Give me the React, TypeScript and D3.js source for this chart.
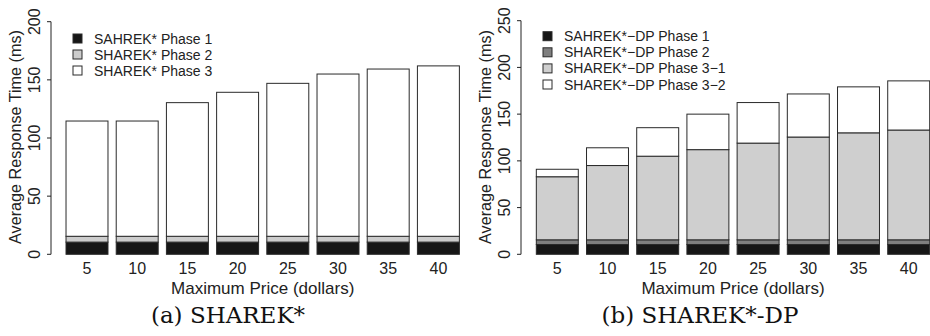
import React from "react";
import * as d3 from "d3";

// Maximum price categories (dollars)
const prices = ["5", "10", "15", "20", "25", "30", "35", "40"];

// SHAREK* phase times (ms)
const sharekPhase1 = [10.5, 10.5, 10.5, 10.5, 10.5, 10.5, 10.5, 10.5];
const sharekPhase2 = [5, 5, 5, 5, 5, 5, 5, 5];
const sharekPhase3 = [99.1, 99.1, 114.9, 123.8, 131.5, 139.5, 143.8, 146.5];

// SHAREK*-DP phase times (ms)
const dpPhase1 = [10.5, 10.5, 10.5, 10.5, 10.5, 10.5, 10.5, 10.5];
const dpPhase2 = [5, 5, 5, 5, 5, 5, 5, 5];
const dpPhase31 = [67.5, 79.5, 89.5, 96.5, 103.5, 110, 114.5, 117.5];
const dpPhase32 = [8, 19, 30.5, 38, 43.4, 46.1, 49.2, 52.6];

const leftTicks = [0, 50, 100, 150, 200];
const rightTicks = [0, 50, 100, 150, 200, 250];

const leftLegend = ["SAHREK* Phase 1", "SHAREK* Phase 2", "SHAREK* Phase 3"];
const rightLegend = [
  "SAHREK*\u2212DP Phase 1",
  "SHAREK*\u2212DP Phase 2",
  "SHAREK*\u2212DP Phase 3\u22121",
  "SHAREK*\u2212DP Phase 3\u22122",
];

const SANS = "'Liberation Sans', Arial, sans-serif";
const SERIF = "'DejaVu Serif', serif";

type PanelProps = {
  series: number[][];
  colors: string[];
  legend: string[];
  ticks: number[];
  yMax: number;
  axisX: number;
  barStart: number;
  yTop: number;
  caption: string;
  captionX: number;
  legendY: number;
  legendStep: number;
};

function Panel(p: PanelProps) {
  const y0 = 254.3;
  const y = d3.scaleLinear().domain([0, p.yMax]).range([y0, p.yTop]);
  const step = 50.2;
  const x = d3
    .scaleBand<string>()
    .domain(prices)
    .range([p.barStart - 4.1, p.barStart - 4.1 + step * prices.length])
    .paddingInner(0.164)
    .paddingOuter(0.082);

  const rows = prices.map((c, i) => {
    const r: Record<string, number | string> = { c };
    p.series.forEach((s, k) => (r["s" + k] = s[i]));
    return r;
  });
  const keys = p.series.map((_, k) => "s" + k);
  const stacked = d3.stack<Record<string, number | string>>().keys(keys)(rows as any);

  const xTitle = (x.range()[0] + x.range()[1]) / 2;
  const text = { fontFamily: SANS, fill: "#222" };

  return (
    <g>
      {/* y axis */}
      <line x1={p.axisX} x2={p.axisX} y1={y(0)} y2={y(p.yMax)} stroke="#222" strokeWidth={1} />
      {p.ticks.map((t) => (
        <g key={t}>
          <line x1={p.axisX - 4} x2={p.axisX} y1={y(t)} y2={y(t)} stroke="#222" strokeWidth={1} />
          <text
            transform={`translate(${p.axisX - 17},${y(t)}) rotate(-90)`}
            textAnchor="middle"
            dominantBaseline="central"
            style={{ ...text, fontSize: 16 }}
          >
            {t}
          </text>
        </g>
      ))}
      <text
        transform={`translate(${p.axisX - 36},137) rotate(-90)`}
        textAnchor="middle"
        dominantBaseline="central"
        style={{ ...text, fontSize: 16.2 }}
      >
        Average Response Time (ms)
      </text>

      {/* stacked bars */}
      {stacked.map((layer, k) =>
        layer.map((d, i) => (
          <rect
            key={k + "-" + i}
            x={x(prices[i])}
            width={x.bandwidth()}
            y={y(d[1])}
            height={y(d[0]) - y(d[1])}
            fill={p.colors[k]}
            stroke="#2a2a2a"
            strokeWidth={1}
          />
        ))
      )}

      {/* x labels */}
      {prices.map((c) => (
        <text
          key={c}
          x={(x(c) as number) + x.bandwidth() / 2}
          y={274}
          textAnchor="middle"
          style={{ ...text, fontSize: 16 }}
        >
          {c}
        </text>
      ))}
      <text x={xTitle} y={294} textAnchor="middle" style={{ ...text, fontSize: 17 }}>
        Maximum Price (dollars)
      </text>

      {/* legend */}
      {p.legend.map((l, k) => (
        <g key={l}>
          <rect
            x={p.axisX + 22}
            y={p.legendY + k * p.legendStep - 4.5}
            width={9}
            height={9}
            fill={p.colors[k]}
            stroke="#2a2a2a"
            strokeWidth={1}
          />
          <text
            x={p.axisX + 43}
            y={p.legendY + k * p.legendStep}
            dominantBaseline="central"
            style={{ ...text, fontSize: 14 }}
          >
            {l}
          </text>
        </g>
      ))}

      <text
        x={p.captionX}
        y={323}
        textAnchor="middle"
        style={{ fontFamily: SERIF, fontSize: 23, fill: "#111" }}
      >
        {p.caption}
      </text>
    </g>
  );
}

export default function App() {
  return (
    <svg
      width={930}
      height={336}
      style={{ position: "absolute", left: 0, top: 0, background: "#fff" }}
    >
      <rect width={930} height={336} fill="#fff" />
      <Panel
        series={[sharekPhase1, sharekPhase2, sharekPhase3]}
        colors={["#161616", "#cccccc", "#ffffff"]}
        legend={leftLegend}
        ticks={leftTicks}
        yMax={200}
        axisX={51}
        barStart={66}
        yTop={21.7}
        caption="(a) SHAREK*"
        captionX={228}
        legendY={38.5}
        legendStep={16}
      />
      <Panel
        series={[dpPhase1, dpPhase2, dpPhase31, dpPhase32]}
        colors={["#161616", "#7f7f7f", "#cfcfcf", "#ffffff"]}
        legend={rightLegend}
        ticks={rightTicks}
        yMax={250}
        axisX={521}
        barStart={536.3}
        yTop={20.7}
        caption="(b) SHAREK*-DP"
        captionX={700}
        legendY={36.2}
        legendStep={16.1}
      />
    </svg>
  );
}
